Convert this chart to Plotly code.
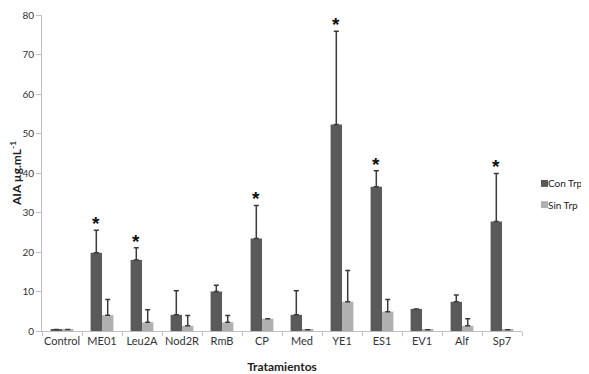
import plotly.graph_objects as go

categories = ["Control", "ME01", "Leu2A", "Nod2R", "RmB", "CP", "Med", "YE1", "ES1", "EV1", "Alf", "Sp7"]
con_trp = [0.4, 19.8, 18.0, 4.1, 10.0, 23.4, 4.1, 52.3, 36.5, 5.6, 7.4, 27.7]
con_err = [0.0, 5.7, 3.1, 6.1, 1.6, 8.4, 6.1, 23.6, 4.1, 0.0, 1.7, 12.2]
sin_trp = [0.4, 4.0, 2.2, 1.3, 2.2, 3.1, 0.3, 7.4, 4.9, 0.3, 1.3, 0.3]
sin_err = [0.0, 4.0, 3.2, 2.6, 1.7, 0.0, 0.0, 7.9, 3.1, 0.0, 1.8, 0.0]
significant = ["ME01", "Leu2A", "CP", "YE1", "ES1", "Sp7"]
y_ticks = [0, 10, 20, 30, 40, 50, 60, 70, 80]
series_names = ["Con Trp", "Sin Trp"]
series_colors = ["#5a5a5a", "#b0b0b0"]

font_family = "Lato, 'Open Sans', sans-serif"

fig = go.Figure()
for name, vals, errs, col in zip(series_names, [con_trp, sin_trp], [con_err, sin_err], series_colors):
    fig.add_trace(go.Bar(
        name=name, x=categories, y=vals, showlegend=False,
        marker=dict(color=col, line=dict(width=0)),
        error_y=dict(type="data", array=errs, symmetric=False, arrayminus=[0]*len(errs),
                     color="#3a3a3a", thickness=1.5, width=2.5),
    ))

for c, v, e in zip(categories, con_trp, con_err):
    if c in significant:
        fig.add_annotation(x=c, y=v + e, text="<b>*</b>", showarrow=False, xref="x", yref="y",
                           xshift=-6, yanchor="bottom", yshift=-6,
                           font=dict(size=19, color="#111111", family="Liberation Sans"))

# manual legend (small squares + labels), placed to the right of the plot
legend_y = [0.467, 0.400]
for name, col, ly in zip(series_names, series_colors, legend_y):
    fig.add_shape(type="rect", xref="paper", yref="paper",
                  x0=1.0396, x1=1.0542, y0=ly - 0.011, y1=ly + 0.011,
                  fillcolor=col, line=dict(width=0))
    fig.add_annotation(x=1.051, y=ly, xref="paper", yref="paper", text=name,
                       showarrow=False, xanchor="left", yanchor="middle",
                       font=dict(size=10, color="#222222"))

fig.update_layout(
    width=581, height=366,
    margin=dict(l=34, r=67, t=7, b=43),
    paper_bgcolor="white", plot_bgcolor="white",
    barmode="group", bargap=0.43, bargroupgap=0,
    font=dict(family=font_family, size=11, color="#333333"),
    showlegend=False,
    xaxis=dict(
        title=dict(text="<b>Tratamientos</b>", font=dict(size=12, color="#222222"), standoff=16),
        showline=True, linecolor="#bfbfbf", linewidth=1, automargin=False,
        ticks="outside", tickson="boundaries", ticklen=4, tickcolor="#bfbfbf",
        tickangle=0, tickfont=dict(size=11, color="#333333"), showgrid=False,
    ),
    yaxis=dict(
        title=dict(text="<b>AIA µg.mL<sup>-1</sup></b>", font=dict(size=12, color="#222222"), standoff=0),
        range=[0, 80], tickvals=y_ticks, showline=True, linecolor="#bfbfbf", linewidth=1,
        ticks="outside", ticklen=5, tickcolor="#bfbfbf", showgrid=False, zeroline=False,
        automargin=False, ticklabeloverflow="allow", tickfont=dict(size=10, color="#333333"),
    ),
)

fig.write_html("out.html")
